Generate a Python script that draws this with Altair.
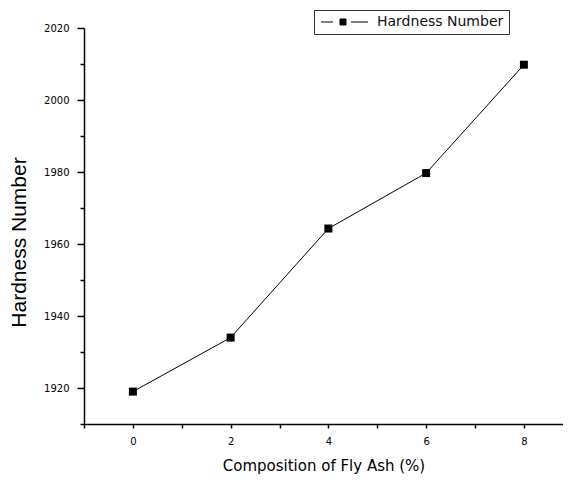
import altair as alt
import pandas as pd

composition = [0, 2, 4, 6, 8]
hardness = [1919, 1934, 1964.3, 1979.7, 2009.8]
series_name = ["Hardness Number"] * 5

x_ticks = list(range(-1, 9))
y_ticks = list(range(1910, 2021, 10))

df = pd.DataFrame({"comp": composition, "hard": hardness, "series": series_name})

FONT = "Liberation Sans"
WIDE = "DejaVu Sans"

x_enc = alt.X(
    "comp:Q",
    scale=alt.Scale(domain=[-1, 8.8], nice=False, zero=False),
    axis=alt.Axis(
        title="Composition of Fly Ash (%)",
        values=x_ticks,
        labelExpr="datum.value >= 0 && datum.value % 2 === 0 ? datum.label : ''",
        tickSize=4,
        labelPadding=8,
        titlePadding=12,
    ),
)
y_enc = alt.Y(
    "hard:Q",
    scale=alt.Scale(domain=[1910, 2020], nice=False, zero=False),
    axis=alt.Axis(
        title="Hardness Number",
        values=y_ticks,
        format="d",
        labelExpr="datum.value % 20 === 0 ? datum.label : ''",
        tickSize={"condition": {"test": "datum.value % 20 === 0", "value": 7}, "value": 4},
        labelPadding=8,
        titlePadding=14,
        titleY=214,
    ),
)

line = alt.Chart(df).mark_line(color="black", strokeWidth=1).encode(x=x_enc, y=y_enc)

sym = "M-1,0 L1.4,0 M5,0 L8.4,0 M2.8,-0.6 L4,-0.6 L4,0.6 L2.8,0.6 Z"

points = alt.Chart(df).mark_point(shape="square", filled=True, size=64, opacity=1).encode(
    x=x_enc,
    y=y_enc,
    color=alt.Color(
        "series:N",
        scale=alt.Scale(range=["black"]),
        legend=alt.Legend(
            title=None,
            orient="none",
            legendX=230,
            legendY=-18,
            symbolType=sym,
            symbolSize=100,
            symbolStrokeColor="black",
            symbolStrokeWidth=1,
            symbolFillColor="black",
            labelOffset=44,
            labelFontSize=14,
            labelFont=WIDE,
            labelColor="#111111",
            strokeColor="#333333",
            fillColor="white",
            padding=5,
        ),
    ),
)

chart = (
    alt.layer(line, points)
    .properties(
        width=479,
        height=396,
        autosize=alt.AutoSizeParams(type="none"),
        padding={"left": 76, "top": 20, "right": 0, "bottom": 52},
    )
    .configure_view(stroke=None)
    .configure_axis(
        grid=False,
        domainColor="black",
        domainWidth=1.5,
        tickColor="black",
        tickWidth=1.5,
        labelFont=WIDE,
        labelFontSize=10,
        labelColor="black",
        titleColor="black",
        titleFontWeight="normal",
    )
    .configure_axisX(titleFontSize=15, titleFont=WIDE)
    .configure_axisY(titleFontSize=21, titleFont=FONT)
)

chart.save("out.html", embed_options={"renderer": "svg", "actions": False})
